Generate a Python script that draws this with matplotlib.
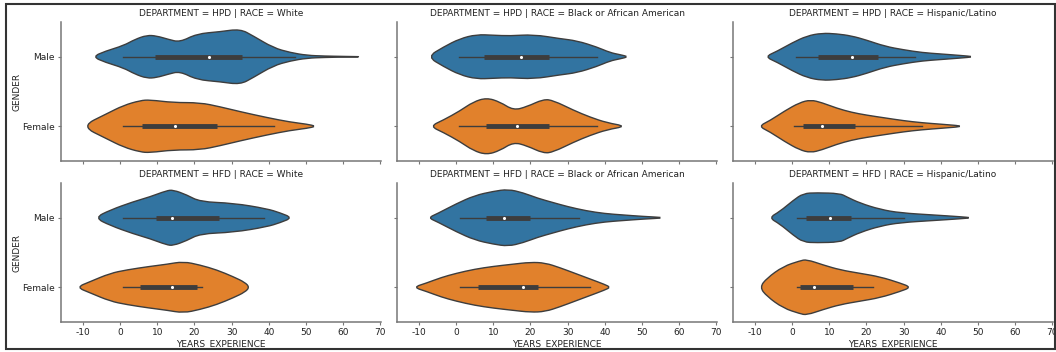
import matplotlib
matplotlib.use("Agg")
import matplotlib.pyplot as plt
import matplotlib.patches as patches
from matplotlib.path import Path


# Violin outlines: years (x) and half width in category units (w)
# box = [whisker low, q1, median, q3, whisker high]

# HPD | White
hpd_white_male_x = [-7.4, -4, 0.9, 4, 7.2, 9.8, 13, 16.1, 20.6, 26.9, 32.3, 35.8, 41.2, 45.8, 50.3, 55, 60, 66]
hpd_white_male_w = [0, 0.08, 0.16, 0.25, 0.31, 0.30, 0.25, 0.21, 0.33, 0.36, 0.40, 0.30, 0.13, 0.06, 0.02, 0.01, 0.005, 0]
hpd_white_male_box = [0.9, 9.4, 23.9, 32.9, 47]
hpd_white_female_x = [-10.4, -3.6, 0.9, 5.4, 8.0, 14.3, 21.5, 26.9, 32.3, 39.5, 45.8, 50.3, 52.8]
hpd_white_female_w = [0, 0.18, 0.30, 0.37, 0.38, 0.34, 0.34, 0.28, 0.21, 0.125, 0.06, 0.03, 0]
hpd_white_female_box = [0.9, 6.0, 14.9, 26.0, 41.3]

# HPD | Black or African American
hpd_black_male_x = [-7.7, -3.4, 1.0, 5.5, 10.0, 14.5, 20.8, 28.0, 32.5, 37.9, 41.4, 44.1, 46.4]
hpd_black_male_w = [0, 0.14, 0.26, 0.32, 0.31, 0.30, 0.32, 0.26, 0.23, 0.14, 0.06, 0.03, 0]
hpd_black_male_box = [0.9, 7.5, 17.5, 25.0, 37.9]
hpd_black_female_x = [-7.0, -3.4, 1.0, 4.6, 8.2, 11.8, 15.4, 19.0, 23.5, 26.2, 31.6, 36.1, 40.6, 45.8]
hpd_black_female_w = [0, 0.09, 0.22, 0.35, 0.41, 0.35, 0.23, 0.28, 0.39, 0.37, 0.23, 0.13, 0.05, 0]
hpd_black_female_box = [0.9, 8.0, 16.5, 25.0, 37.9]

# HPD | Hispanic/Latino
hpd_hisp_male_x = [-7.3, -4, 0, 4, 8, 12, 16, 20, 25, 30, 35, 40, 45, 49.3]
hpd_hisp_male_w = [0, 0.08, 0.20, 0.30, 0.34, 0.33, 0.30, 0.24, 0.15, 0.10, 0.06, 0.04, 0.02, 0]
hpd_hisp_male_box = [1, 7, 16, 23, 33]
hpd_hisp_female_x = [-9, -6, -2, 2, 5, 8, 12, 16, 20, 25, 30, 35, 40, 46.8]
hpd_hisp_female_w = [0, 0.08, 0.22, 0.34, 0.38, 0.34, 0.26, 0.20, 0.16, 0.12, 0.08, 0.05, 0.03, 0]
hpd_hisp_female_box = [0.5, 3, 8, 17, 35]

# HFD | White
hfd_white_male_x = [-6.8, -2.7, 3.5, 8.0, 12.5, 14.3, 17.9, 21.5, 30.5, 39.5, 43.1, 46.3]
hfd_white_male_w = [0, 0.11, 0.23, 0.30, 0.39, 0.40, 0.33, 0.23, 0.21, 0.13, 0.07, 0]
hfd_white_male_box = [0.9, 9.7, 13.9, 26.5, 38.6]
hfd_white_female_x = [-11.7, -8.1, -2.7, 1.8, 8.0, 12.5, 17.0, 21.5, 26.0, 30.5, 33.6, 34.8]
hfd_white_female_w = [0, 0.08, 0.20, 0.25, 0.30, 0.33, 0.37, 0.32, 0.25, 0.15, 0.07, 0]
hfd_white_female_box = [0.9, 5.4, 14.0, 20.6, 22.1]

# HFD | Black or African American
hfd_black_male_x = [-7.5, -5, 0, 5, 10, 14, 18, 22, 26, 30, 35, 40, 45, 50, 57]
hfd_black_male_w = [0, 0.06, 0.20, 0.32, 0.38, 0.41, 0.36, 0.28, 0.22, 0.16, 0.10, 0.06, 0.04, 0.02, 0]
hfd_black_male_box = [1, 8, 13, 20, 33]
hfd_black_female_x = [-11.5, -8, -4, 0, 5, 10, 15, 20, 24, 28, 32, 36, 40, 41.5]
hfd_black_female_w = [0, 0.06, 0.14, 0.20, 0.26, 0.30, 0.33, 0.36, 0.35, 0.28, 0.20, 0.12, 0.04, 0]
hfd_black_female_box = [1, 6, 18, 22, 36]

# HFD | Hispanic/Latino
hfd_hisp_male_x = [-6.2, -3.3, 0.3, 3.0, 6.6, 12.9, 14.7, 18.3, 23.7, 29.1, 38.0, 45.2, 48.4]
hfd_hisp_male_w = [0, 0.09, 0.25, 0.35, 0.36, 0.35, 0.30, 0.21, 0.12, 0.07, 0.04, 0.015, 0]
hfd_hisp_male_box = [1.2, 3.7, 10.2, 15.8, 30]
hfd_hisp_female_x = [-8.7, -6.8, -2.4, 2.1, 3.9, 8.4, 12.9, 18.3, 23.7, 29.1, 32.0]
hfd_hisp_female_w = [0, 0.13, 0.30, 0.38, 0.40, 0.32, 0.25, 0.20, 0.15, 0.06, 0]
hfd_hisp_female_box = [1.2, 2.1, 6.0, 16.3, 21.9]

departments = ["HPD", "HFD"]
races = ["White", "Black or African American", "Hispanic/Latino"]
genders = ["Male", "Female"]
x_ticks = [-10, 0, 10, 20, 30, 40, 50, 60, 70]

panels = [
    [(hpd_white_male_x, hpd_white_male_w, hpd_white_male_box, hpd_white_female_x, hpd_white_female_w, hpd_white_female_box),
     (hpd_black_male_x, hpd_black_male_w, hpd_black_male_box, hpd_black_female_x, hpd_black_female_w, hpd_black_female_box),
     (hpd_hisp_male_x, hpd_hisp_male_w, hpd_hisp_male_box, hpd_hisp_female_x, hpd_hisp_female_w, hpd_hisp_female_box)],
    [(hfd_white_male_x, hfd_white_male_w, hfd_white_male_box, hfd_white_female_x, hfd_white_female_w, hfd_white_female_box),
     (hfd_black_male_x, hfd_black_male_w, hfd_black_male_box, hfd_black_female_x, hfd_black_female_w, hfd_black_female_box),
     (hfd_hisp_male_x, hfd_hisp_male_w, hfd_hisp_male_box, hfd_hisp_female_x, hfd_hisp_female_w, hfd_hisp_female_box)],
]

colors = ["#3274a1", "#e1812c"]
edge = "#3d3d3d"
fs = 6.5


def smooth_outline(x, w, pos):
    # closed outline, drawn as a quadratic spline through the read points
    top = [(xi, pos - wi) for xi, wi in zip(x, w)]
    bot = [(xi, pos + wi) for xi, wi in zip(x[::-1], w[::-1])]
    pts = top + bot[1:-1]
    n = len(pts)
    mid = lambda a, b: ((a[0] + b[0]) / 2, (a[1] + b[1]) / 2)
    verts = [mid(pts[-1], pts[0])]
    codes = [Path.MOVETO]
    for i in range(n):
        verts += [pts[i], mid(pts[i], pts[(i + 1) % n])]
        codes += [Path.CURVE3, Path.CURVE3]
    verts.append(verts[0])
    codes.append(Path.CLOSEPOLY)
    return Path(verts, codes)


def draw_violin(ax, x, w, box, pos, color):
    ax.add_patch(patches.PathPatch(smooth_outline(x, w, pos), facecolor=color,
                                   edgecolor=edge, lw=1.0, zorder=2))
    ax.plot([box[0], box[4]], [pos, pos], color=edge, lw=1.0, zorder=3)
    ax.plot([box[1], box[3]], [pos, pos], color=edge, lw=3.5, solid_capstyle="butt", zorder=3)
    ax.scatter([box[2]], [pos], s=5, color="white", zorder=4, linewidths=0)


fig = plt.figure(figsize=(10.56, 3.52), dpi=100)
lefts = [61, 397, 733]
tops = [22, 183]

for r in range(2):
    for c in range(3):
        ax = fig.add_axes([lefts[c] / 1056, 1 - (tops[r] + 139) / 352, 320 / 1056, 139 / 352])
        mx, mw, mb, fx, fw, fb = panels[r][c]
        draw_violin(ax, mx, mw, mb, 0, colors[0])
        draw_violin(ax, fx, fw, fb, 1, colors[1])
        ax.set_xlim(-15.9, 70.2)
        ax.set_ylim(1.5, -0.5)
        ax.set_xticks(x_ticks)
        ax.set_yticks([0, 1])
        ax.spines["top"].set_visible(False)
        ax.spines["right"].set_visible(False)
        for s in ["left", "bottom"]:
            ax.spines[s].set_color("#777777")
            ax.spines[s].set_linewidth(1.1)
        ax.tick_params(colors="#777777", labelcolor="#222222", labelsize=fs, length=2.5, width=0.8, pad=2)
        ax.set_title("DEPARTMENT = %s | RACE = %s" % (departments[r], races[c]), fontsize=fs, color="#222222", pad=4)
        if c == 0:
            ax.set_yticklabels(genders)
            ax.set_ylabel("GENDER", fontsize=fs, color="#222222", labelpad=0)
        else:
            ax.set_yticklabels([])
        if r == 1:
            ax.set_xticklabels([str(t) for t in x_ticks])
            ax.set_xlabel("YEARS_EXPERIENCE", fontsize=fs, color="#222222", labelpad=1)
        else:
            ax.set_xticklabels([])

# thin frame around the whole picture
fig.patches.append(patches.Rectangle((6 / 1056, 3 / 352), 1049 / 1056, 345 / 352, transform=fig.transFigure,
                                     fill=False, edgecolor="#333333", lw=1.5))

fig.savefig("out.png", dpi=100)
